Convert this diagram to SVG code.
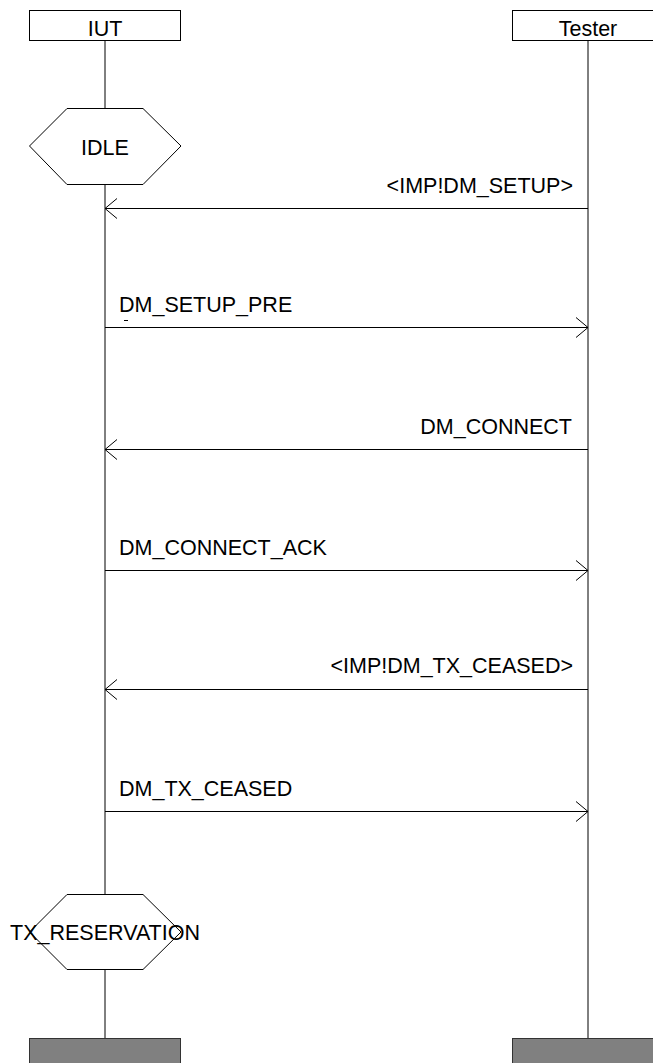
<svg xmlns="http://www.w3.org/2000/svg" width="653" height="1063" viewBox="0 0 653 1063">
<style>
.ln{stroke:#000;stroke-width:1;fill:none}
.hd{fill:#fff;stroke:#000;stroke-width:1}
.ft{fill:#808080;stroke:#333;stroke-width:1}
.hx{fill:#fff;stroke:#000;stroke-width:1}
text{font-family:"Liberation Sans",Arial,sans-serif;font-size:21.5px;fill:#000}
.c{text-anchor:middle}
.r{text-anchor:end}
</style>
<defs>
<marker id="ah" markerWidth="14" markerHeight="22" refX="13" refY="11" orient="auto" markerUnits="userSpaceOnUse">
<path d="M1,1 L13,11 L1,21" fill="none" stroke="#000" stroke-width="1"/>
</marker>
</defs>
<g id="lifelines">
<line class="ln" x1="105" y1="41" x2="105" y2="1038"/>
<line class="ln" x1="588" y1="41" x2="588" y2="1038"/>
</g>
<g id="iut">
<rect class="hd" x="29.5" y="10.5" width="151" height="30"/>
<text class="c" x="105" y="36">IUT</text>
<rect class="ft" x="29.5" y="1038.5" width="151" height="30"/>
</g>
<g id="tester">
<rect class="hd" x="512.5" y="10.5" width="151" height="30"/>
<text class="c" x="588" y="36">Tester</text>
<rect class="ft" x="512.5" y="1038.5" width="151" height="30"/>
</g>
<g id="idle">
<polygon class="hx" points="67,108.5 143,108.5 181,146 143,184.5 67,184.5 29.5,146"/>
<text class="c" x="105" y="155">IDLE</text>
</g>
<g id="tx_reservation">
<polygon class="hx" points="67,894.5 143,894.5 181,932 143,969.5 67,969.5 29.5,932"/>
<text class="c" x="105" y="940">TX_RESERVATION</text>
</g>
<g id="connectors">
<line class="ln" x1="588" y1="208.5" x2="105" y2="208.5" marker-end="url(#ah)"/>
<line class="ln" x1="105" y1="327.5" x2="588" y2="327.5" marker-end="url(#ah)"/>
<line class="ln" x1="588" y1="449.5" x2="105" y2="449.5" marker-end="url(#ah)"/>
<line class="ln" x1="105" y1="570.5" x2="588" y2="570.5" marker-end="url(#ah)"/>
<line class="ln" x1="588" y1="689.5" x2="105" y2="689.5" marker-end="url(#ah)"/>
<line class="ln" x1="105" y1="811.5" x2="588" y2="811.5" marker-end="url(#ah)"/>
<line class="ln" x1="124" y1="320.5" x2="128" y2="320.5"/>
</g>
<g id="labels">
<text class="r" x="573" y="193">&lt;IMP!DM_SETUP&gt;</text>
<text x="119" y="312">DM_SETUP_PRE</text>
<text class="r" x="572" y="434">DM_CONNECT</text>
<text x="119" y="555">DM_CONNECT_ACK</text>
<text class="r" x="573" y="673">&lt;IMP!DM_TX_CEASED&gt;</text>
<text x="119" y="796">DM_TX_CEASED</text>
</g>
</svg>
